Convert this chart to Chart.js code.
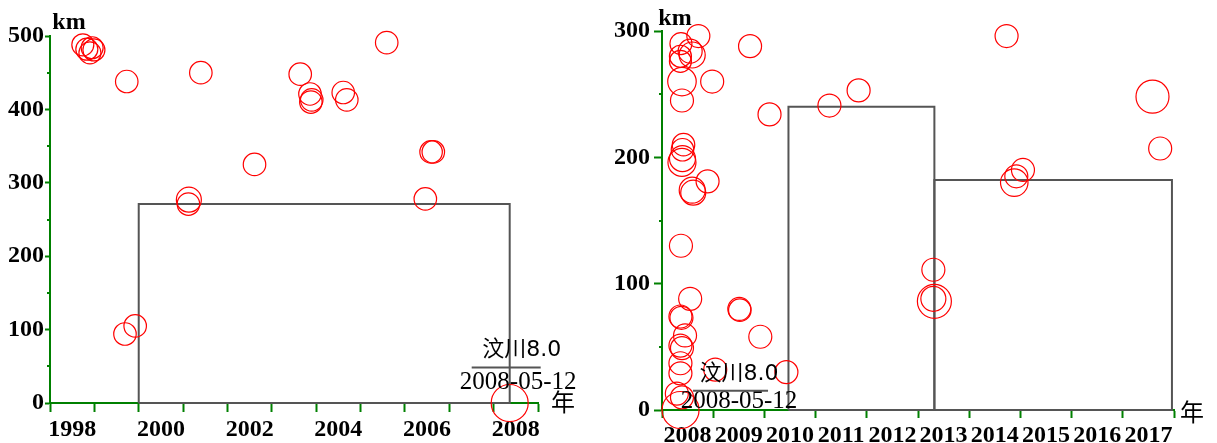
<!DOCTYPE html>
<html>
<head>
<meta charset="utf-8">
<script src="https://cdn.jsdelivr.net/npm/chart.js@4/dist/chart.umd.min.js"></script>
<style>
  html, body { margin: 0; padding: 0; background: #fff; }
  #wrap { position: relative; width: 1217px; height: 443px; overflow: hidden; }
  canvas { position: absolute; top: 0; }
  #leftChart { left: 0; }
  #rightChart { left: 600px; }
</style>
</head>
<body>
<div id="wrap">
  <canvas id="leftChart" width="600" height="443"></canvas>
  <canvas id="rightChart" width="617" height="443"></canvas>
</div>
<script>
// Wenchuan mainshock
const mainName = '汶川';
const mainMag = 8.0;
const mainDate = '2008-05-12';

// Events before the mainshock (decimal year, km, magnitude)
const beforeYear = [1998.74, 1998.83, 1998.95, 1998.90, 1998.99, 1999.73, 1999.69, 1999.92,
  2001.40, 2001.13, 2001.12, 2002.61, 2003.64, 2003.86, 2003.90, 2003.88, 2004.61, 2004.69,
  2005.59, 2006.59, 2006.64, 2006.46];
const beforeKm = [488, 482, 484, 477, 481, 438, 94, 105,
  450, 277, 271, 325, 448, 421, 413, 410, 423, 413,
  491, 342, 342, 278];
const beforeMag = [5.0, 5.0, 5.0, 5.0, 5.0, 5.1, 5.1, 5.1,
  5.1, 5.6, 5.1, 5.1, 5.1, 5.1, 5.1, 5.1, 5.1, 5.1,
  5.1, 5.1, 5.1, 5.1];

// Events after the mainshock
const afterYear = [2008.71, 2008.37, 2008.55, 2008.59, 2008.36, 2008.36, 2008.39, 2008.98, 2008.39,
  2009.72, 2010.10, 2011.27, 2011.84, 2008.42, 2008.40, 2008.39, 2008.40, 2008.89, 2008.59, 2008.61,
  2008.37, 2008.55, 2008.36, 2008.38, 2008.45, 2008.36, 2008.39, 2008.36, 2008.36, 2008.29, 2008.39,
  2009.04, 2009.51, 2009.52, 2009.92, 2010.43, 2014.73, 2017.58, 2017.73, 2015.05, 2014.92, 2014.88,
  2013.30, 2013.30, 2013.32];
const afterKm = [296, 290, 284, 281, 280, 276, 260, 260, 245,
  288, 234, 241, 253, 210, 206, 196, 199, 181, 174, 172,
  130, 88, 74, 73, 59, 51, 49, 37, 29, 13, 10,
  32, 80, 79, 58, 30, 296, 248, 207, 190, 185, 180,
  111, 88, 86];
const afterMag = [5.2, 5.0, 5.4, 5.8, 5.0, 5.0, 6.3, 5.2, 5.2,
  5.2, 5.2, 5.2, 5.2, 5.1, 5.1, 6.2, 5.8, 5.2, 5.8, 5.6,
  5.2, 5.2, 5.2, 5.2, 5.2, 5.2, 5.2, 5.2, 5.2, 5.2, 5.2,
  5.2, 5.2, 5.1, 5.2, 5.2, 5.2, 7.2, 5.2, 5.2, 5.2, 6.1,
  5.2, 5.6, 7.4];

// Outlined windows (start year, end year, km)
const leftBoxStart = [2000];
const leftBoxKm = [271];
const rightBoxStart = [2010.47, 2013.32];
const rightBoxEnd = [2013.32, 2017.96];
const rightBoxKm = [240, 182];

// Axis ticks and labels
const leftYearLabels = [1998, 2000, 2002, 2004, 2006, 2008];
const rightYearLabels = [2008, 2009, 2010, 2011, 2012, 2013, 2014, 2015, 2016, 2017];
const leftKmTicks = [0, 100, 200, 300, 400, 500];
const leftKmMinor = [50, 150, 250, 350, 450];
const rightKmTicks = [0, 100, 200, 300];
const rightKmMinor = [50, 150, 250];

const GREEN = '#008000';
const SERIF = '"Liberation Serif", "Times New Roman", serif';

function decimalYear(iso) {
  const [y, m, d] = iso.split('-').map(Number);
  const start = Date.UTC(y, 0, 1);
  const days = (Date.UTC(y + 1, 0, 1) - start) / 86400000;
  return y + ((Date.UTC(y, m - 1, d) - start) / 86400000 + 0.5) / days;
}
const mainYear = decimalYear(mainDate);
const radiusFor = m => 11 + (m - 5) * 2.5;

function yearTicks(min, max, labels) {
  const t = [];
  for (let y = min; y <= max; y++) t.push(y);
  labels.forEach(l => t.push(l + 0.5));
  return t.sort((a, b) => a - b).map(v => ({ value: v }));
}

function boxPath(s, e, km) {
  return [{ x: s, y: 0 }, { x: s, y: km }, { x: e, y: km }, { x: e, y: 0 }, { x: s, y: 0 }];
}

const decor = {
  id: 'decor',
  afterDraw(chart, args, o) {
    const ctx = chart.ctx;
    const a = chart.chartArea;
    const xs = chart.scales.x, ys = chart.scales.y;
    ctx.save();
    // minor ticks on the km axis
    ctx.strokeStyle = GREEN;
    ctx.lineWidth = 2;
    o.minor.forEach(v => {
      const py = Math.round(ys.getPixelForValue(v));
      ctx.beginPath();
      ctx.moveTo(a.left - o.minorLen, py);
      ctx.lineTo(a.left, py);
      ctx.stroke();
    });
    ctx.fillStyle = '#000';
    ctx.textAlign = 'center';
    ctx.textBaseline = 'middle';
    // unit labels
    ctx.font = 'bold 24px ' + SERIF;
    ctx.fillText('km', a.left + o.km[0], a.top + o.km[1]);
    ctx.font = '24px "Noto Sans CJK SC", sans-serif';
    ctx.fillText('年', a.right + o.nian[0], a.bottom + o.nian[1]);
    // mainshock annotation
    const x0 = xs.getPixelForValue(mainYear);
    const y0 = ys.getPixelForValue(0);
    ctx.font = '22px "DejaVu Sans", "Noto Sans CJK SC", sans-serif';
    ctx.fillText(mainName + mainMag.toFixed(1), x0 + o.name[0], y0 + o.name[1]);
    ctx.font = '25px ' + SERIF;
    ctx.fillText(mainDate, x0 + o.date[0], y0 + o.date[1]);
    ctx.strokeStyle = '#555';
    ctx.lineWidth = 2;
    ctx.beginPath();
    ctx.moveTo(x0 + o.rule[0], y0 + o.rule[2]);
    ctx.lineTo(x0 + o.rule[1], y0 + o.rule[2]);
    ctx.stroke();
    ctx.restore();
  }
};

function makeChart(id, p) {
  const pts = p.years.map((x, i) => ({ x, y: p.km[i] }));
  const datasets = [{
    type: 'scatter',
    data: pts,
    pointRadius: p.mag.map(radiusFor),
    pointHoverRadius: p.mag.map(radiusFor),
    pointStyle: 'circle',
    backgroundColor: 'rgba(0,0,0,0)',
    borderColor: '#ff0000',
    borderWidth: 1.2,
    clip: false
  }];
  p.boxes.forEach(b => datasets.push({
    type: 'line',
    data: b,
    borderColor: '#555',
    borderWidth: 2,
    pointRadius: 0,
    fill: false,
    tension: 0,
    clip: false
  }));
  const tickFont = { family: SERIF, size: p.fontSize, weight: 'bold' };
  return new Chart(document.getElementById(id), {
    type: 'scatter',
    data: { datasets },
    options: {
      responsive: false,
      animation: false,
      devicePixelRatio: 1,
      events: [],
      layout: { padding: p.padding },
      plugins: {
        legend: { display: false },
        tooltip: { enabled: false },
        decor: p.decor
      },
      scales: {
        x: {
          type: 'linear',
          position: 'bottom',
          min: p.xMin, max: p.xMax,
          afterBuildTicks: s => { s.ticks = yearTicks(p.xMin, p.xMax, p.yearLabels); },
          afterFit: s => { s.height = p.xHeight; },
          ticks: {
            autoSkip: false, maxRotation: 0, minRotation: 0,
            color: '#000', font: tickFont, padding: p.xPad,
            callback: v => (v % 1 === 0.5 ? String(Math.floor(v)) : '')
          },
          grid: {
            drawOnChartArea: false, drawTicks: true, tickLength: p.xTickLen,
            tickWidth: 2,
            tickColor: c => (c.tick && Number.isInteger(c.tick.value) ? GREEN : 'rgba(0,0,0,0)')
          },
          border: { color: GREEN, width: 2 }
        },
        y: {
          type: 'linear',
          position: 'left',
          min: 0, max: p.yMax,
          afterBuildTicks: s => { s.ticks = p.kmTicks.map(v => ({ value: v })); },
          afterFit: s => { s.width = p.yWidth; },
          ticks: { color: '#000', font: tickFont, padding: p.yPad, callback: v => String(v) },
          grid: { drawOnChartArea: false, drawTicks: true, tickLength: p.yTickLen, tickWidth: 2, tickColor: GREEN },
          border: { color: GREEN, width: 2 }
        }
      }
    },
    plugins: [decor]
  });
}

makeChart('leftChart', {
  years: beforeYear.concat([mainYear]),
  km: beforeKm.concat([0]),
  mag: beforeMag.concat([mainMag]),
  boxes: leftBoxStart.map((s, i) => boxPath(s, mainYear, leftBoxKm[i])),
  xMin: 1998, xMax: 2009, yMax: 500,
  yearLabels: leftYearLabels, kmTicks: leftKmTicks,
  padding: { top: 36, right: 62, bottom: 0, left: 0 },
  xHeight: 40, yWidth: 50,
  xTickLen: 9, xPad: 3, yTickLen: 5, yPad: 1,
  fontSize: 24,
  decor: {
    minor: leftKmMinor, minorLen: 3,
    km: [19, -13], nian: [25, -1],
    name: [12, -53], date: [8.5, -21], rule: [-38, 31, -35.5]
  }
});

makeChart('rightChart', {
  years: afterYear.concat([mainYear]),
  km: afterKm.concat([0]),
  mag: afterMag.concat([mainMag]),
  boxes: rightBoxStart.map((s, i) => boxPath(s, rightBoxEnd[i], rightBoxKm[i])),
  xMin: 2008, xMax: 2018, yMax: 300,
  yearLabels: rightYearLabels, kmTicks: rightKmTicks,
  padding: { top: 31, right: 43, bottom: 0, left: 0 },
  xHeight: 33, yWidth: 62,
  xTickLen: 8, xPad: 3, yTickLen: 8, yPad: 4,
  fontSize: 24,
  decor: {
    minor: rightKmMinor, minorLen: 3,
    km: [13, -12.5], nian: [18, 2],
    name: [58.5, -36], date: [58.5, -8.3], rule: [12.5, 87.5, -19.3]
  }
});
</script>
</body>
</html>
